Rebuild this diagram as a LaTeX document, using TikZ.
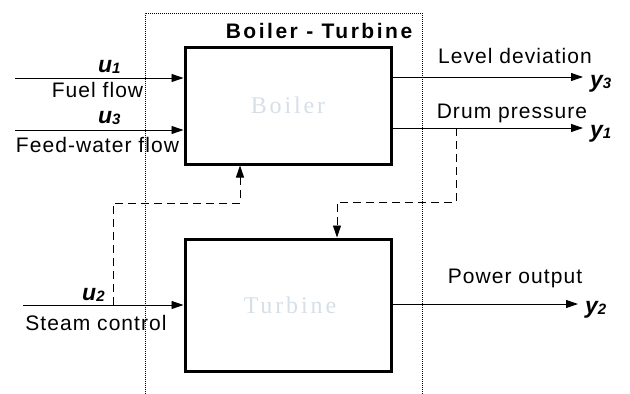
\documentclass[tikz,border=0pt]{standalone}
\usepackage{fontspec}
\setmainfont{Liberation Sans}[LetterSpace=5]
\newfontfamily\titleface{Liberation Sans}[LetterSpace=12]
\newfontfamily\ioface{Liberation Sans}
\newfontfamily\faintface{Liberation Serif}[LetterSpace=12]
\usetikzlibrary{arrows.meta}
\definecolor{faint}{HTML}{D6DFE8}
\newcommand\iolbl[2]{{\ioface\bfseries\itshape\fontsize{23}{23}\selectfont #1\fontsize{15}{15}\selectfont\raisebox{-0.25ex}{#2}}}
\begin{document}
\begin{tikzpicture}[x=1pt,y=-1pt,
  blockbox/.style={draw, line width=3pt, minimum width=206pt, inner sep=0pt},
  faintlbl/.style={text=faint, font=\faintface\fontsize{24}{24}\selectfont},
  txt/.style={font=\fontsize{21}{21}\selectfont, anchor=base, inner sep=0pt},
  iol/.style={anchor=base west, inner sep=0pt},
  arr/.style={line width=0.9pt, -{Triangle[length=12pt,width=8pt]}},
  dsh/.style={line width=0.9pt, dash pattern=on 8pt off 5pt, -{Triangle[length=12pt,width=8pt]}},
]
\useasboundingbox (0,0) rectangle (630,394);
% outer dotted frame
\draw[line width=0.8pt, dash pattern=on 1pt off 1pt] (145,394) -- (145,13) -- (422,13) -- (422,394);
\node[font=\titleface\bfseries\fontsize{21}{21}\selectfont, anchor=base, inner sep=0pt] (title) at (319,38) {Boiler - Turbine};
% blocks
\node[blockbox, minimum height=117pt] (boiler) at (288,105.5) {};
\node[faintlbl] (boilerlbl) at (288,105) {Boiler};
\node[blockbox, minimum height=132pt] (turbine) at (288,305) {};
\node[faintlbl] (turbinelbl) at (290,305) {Turbine};
% inputs
\coordinate (in1) at (15,78);
\coordinate (in3) at (15,130);
\coordinate (in2) at (23,305);
\draw[arr] (in1) -- (in1 -| boiler.west);
\draw[arr] (in3) -- (in3 -| boiler.west);
\draw[arr] (in2) -- (in2 -| turbine.west);
\node[iol] (u1) at (98,72) {\iolbl{u}{1}};
\node[iol] (u3) at (98,123) {\iolbl{u}{3}};
\node[iol] (u2) at (82,300) {\iolbl{u}{2}};
\node[txt] (fuel) at (97.5,97) {Fuel flow};
\node[txt] (feed) at (97.5,152) {Feed-water flow};
\node[txt] (steam) at (96,330) {Steam control};
% outputs
\coordinate (o3) at (583,77);
\coordinate (o1) at (583,128);
\coordinate (o2) at (578,304);
\draw[arr] (o3 -| boiler.east) -- (o3);
\draw[arr] (o1 -| boiler.east) -- (o1);
\draw[arr] (o2 -| turbine.east) -- (o2);
\node[iol] (y3) at (590,87) {\iolbl{y}{3}};
\node[iol] (y1) at (590,137) {\iolbl{y}{1}};
\node[iol] (y2) at (585,313) {\iolbl{y}{2}};
\node[txt] (level) at (515,63) {Level deviation};
\node[txt] (drum) at (512,118) {Drum pressure};
\node[txt] (power) at (515,283) {Power output};
% dashed couplings
\coordinate (d1) at (456,128);
\coordinate (d2) at (337,202);
\draw[dsh] (d1) |- (d2) -- (d2 |- turbine.north);
\coordinate (d3) at (113,305);
\coordinate (d4) at (240,203);
\draw[dsh] (d3) |- (d4) -- (d4 |- boiler.south);
\end{tikzpicture}
\end{document}
